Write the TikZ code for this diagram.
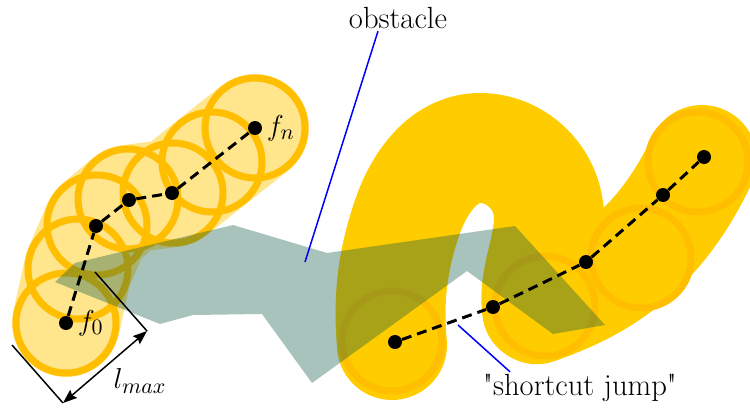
\documentclass[tikz,border=0pt]{standalone}
\usepackage{tikz}
\usetikzlibrary{arrows.meta,positioning}
\definecolor{PathYellow}{RGB}{255,204,0}
\definecolor{RingYellow}{RGB}{255,190,0}
\definecolor{BandYellow}{RGB}{255,229,140}
\definecolor{ObstGreen}{RGB}{12,88,68}

\begin{document}
\begin{tikzpicture}[
  x=0.5pt, y=-0.5pt,
  every node/.style={font=\fontsize{15.3}{18}\selectfont},
  ring/.style={draw=RingYellow, line width=3.5pt},
  dot/.style={circle, fill=black, inner sep=0pt, minimum size=7pt},
  hopline/.style={draw=black, line width=1.5pt, dash pattern=on 5pt off 3pt},
  leader/.style={draw=blue, line width=0.75pt},
  dim/.style={draw=black, line width=0.75pt},
  sweep/.style={line width=#1, line cap=round, line join=round}
]
\useasboundingbox (0,0) rectangle (750,412);

\draw[BandYellow, sweep=54pt] (66,323) -- (78,269) -- (97,225) -- (128,199) -- (173,193) -- (212,162) -- (255,128);
\foreach \x/\y in {66/323, 78/269, 97/225, 128/199, 173/193, 212/162, 255/128}
  \draw[ring] (\x,\y) circle[radius=50];

\draw[PathYellow, sweep=55pt] (392,345) .. controls (388,300) and (392,262) .. (407,218)
  .. controls (420,180) and (445,148) .. (480,148)
  .. controls (517,148) and (549,179) .. (549,218)
  .. controls (549,250) and (533,278) .. (537,309)
  .. controls (590,290) and (655,260) .. (702,160);
\foreach \x/\y in {392/341, 545/306, 641/258, 698/162}
  \draw[ring] (\x,\y) circle[radius=50];

\fill[ObstGreen, opacity=0.36] (55,282) -- (75,263) -- (233,225) -- (327,253) -- (515,226) -- (605,325) -- (553,334) -- (467,271) -- (312,383) -- (262,314) -- (193,315) -- (160,324) -- cycle;

\node[dot] (f0) at (66,323) {};
\node[dot] (a1) at (96,226) {};
\node[dot] (a2) at (129,200) {};
\node[dot] (a3) at (172,193) {};
\node[dot] (fn) at (255,128) {};
\draw[hopline] (f0) -- (a1) -- (a2) -- (a3) -- (fn);

\node[dot] (b0) at (395,342) {};
\node[dot] (b1) at (493,307) {};
\node[dot] (b2) at (586,262) {};
\node[dot] (b3) at (663,195) {};
\node[dot] (b4) at (704,157) {};
\draw[hopline] (b0) -- (b1) -- (b2) -- (b3) -- (b4);

\node[right=1pt of f0, inner sep=1pt] (f0lbl) {$f_0$};
\node[right=1pt of fn, inner sep=1pt] (fnlbl) {$f_n$};

\coordinate (d1) at (12,345);
\coordinate (d2) at (63,403);
\coordinate (d3) at (95,272);
\coordinate (d4) at (147,331);
\draw[dim] (d1) -- (d2);
\draw[dim] (d3) -- (d4);
\draw[dim, {Stealth[length=7pt,inset=1pt]}-{Stealth[length=7pt,inset=1pt]}] (d2) -- (d4);
\node (lmaxlbl) at (140,381) {$l_{max}$};

\node[inner sep=1pt] (obstlbl) at (398,18) {obstacle};
\coordinate (obstpt) at (305,262);
\draw[leader] ([xshift=-10pt]obstlbl.south) -- (obstpt);

\node[inner sep=1pt] (jumplbl) at (580,388) {\textquotedbl shortcut jump\textquotedbl};
\coordinate (jumppt) at (458,325);
\draw[leader] ([xshift=-35pt]jumplbl.north) -- (jumppt);
\end{tikzpicture}
\end{document}
